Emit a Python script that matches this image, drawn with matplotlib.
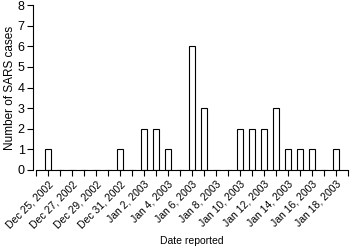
import matplotlib.pyplot as plt

plt.rcParams['font.family'] = 'Liberation Sans'

dates = ["Dec 25, 2002", "Dec 26, 2002", "Dec 27, 2002", "Dec 28, 2002", "Dec 29, 2002",
         "Dec 30, 2002", "Dec 31, 2002", "Jan 1, 2003", "Jan 2, 2003", "Jan 3, 2003",
         "Jan 4, 2003", "Jan 5, 2003", "Jan 6, 2003", "Jan 7, 2003", "Jan 8, 2003",
         "Jan 9, 2003", "Jan 10, 2003", "Jan 11, 2003", "Jan 12, 2003", "Jan 13, 2003",
         "Jan 14, 2003", "Jan 15, 2003", "Jan 16, 2003", "Jan 17, 2003", "Jan 18, 2003"]
cases = [1, 0, 0, 0, 0, 0, 1, 0, 2, 2, 1, 0, 6, 3, 0, 0, 2, 2, 2, 3, 1, 1, 1, 0, 1]

x = list(range(len(dates)))

fig = plt.figure(figsize=(3.51, 2.46), dpi=100)
ax = fig.add_axes([33/351, 76/246, 317/351, 165/246])

ax.bar(x, cases, width=0.45, color='white', edgecolor='black', linewidth=0.8)

ax.set_xlim(-1.25, 25.17)
ax.set_ylim(0, 8)
ax.spines['top'].set_visible(False)
ax.spines['right'].set_visible(False)
ax.spines['bottom'].set_bounds(-1, 25)
ax.spines['left'].set_linewidth(0.8)
ax.spines['bottom'].set_linewidth(0.8)

ax.set_xticks(range(-1, 26), minor=True)
ax.set_xticks(x[::2])
ax.set_xticklabels(dates[::2], rotation=45, ha='right', rotation_mode='anchor', fontsize=7.5)
ax.tick_params(axis='x', which='both', length=4.5, width=0.8, pad=2)
ax.set_yticks(range(0, 9))
ax.tick_params(axis='y', length=4, width=0.8, labelsize=9, pad=2)

ax.set_xlabel("Date reported", fontsize=7.5, labelpad=4)
ax.set_ylabel("Number of SARS cases", fontsize=8.5, labelpad=1)

plt.savefig('out.png', dpi=100)
